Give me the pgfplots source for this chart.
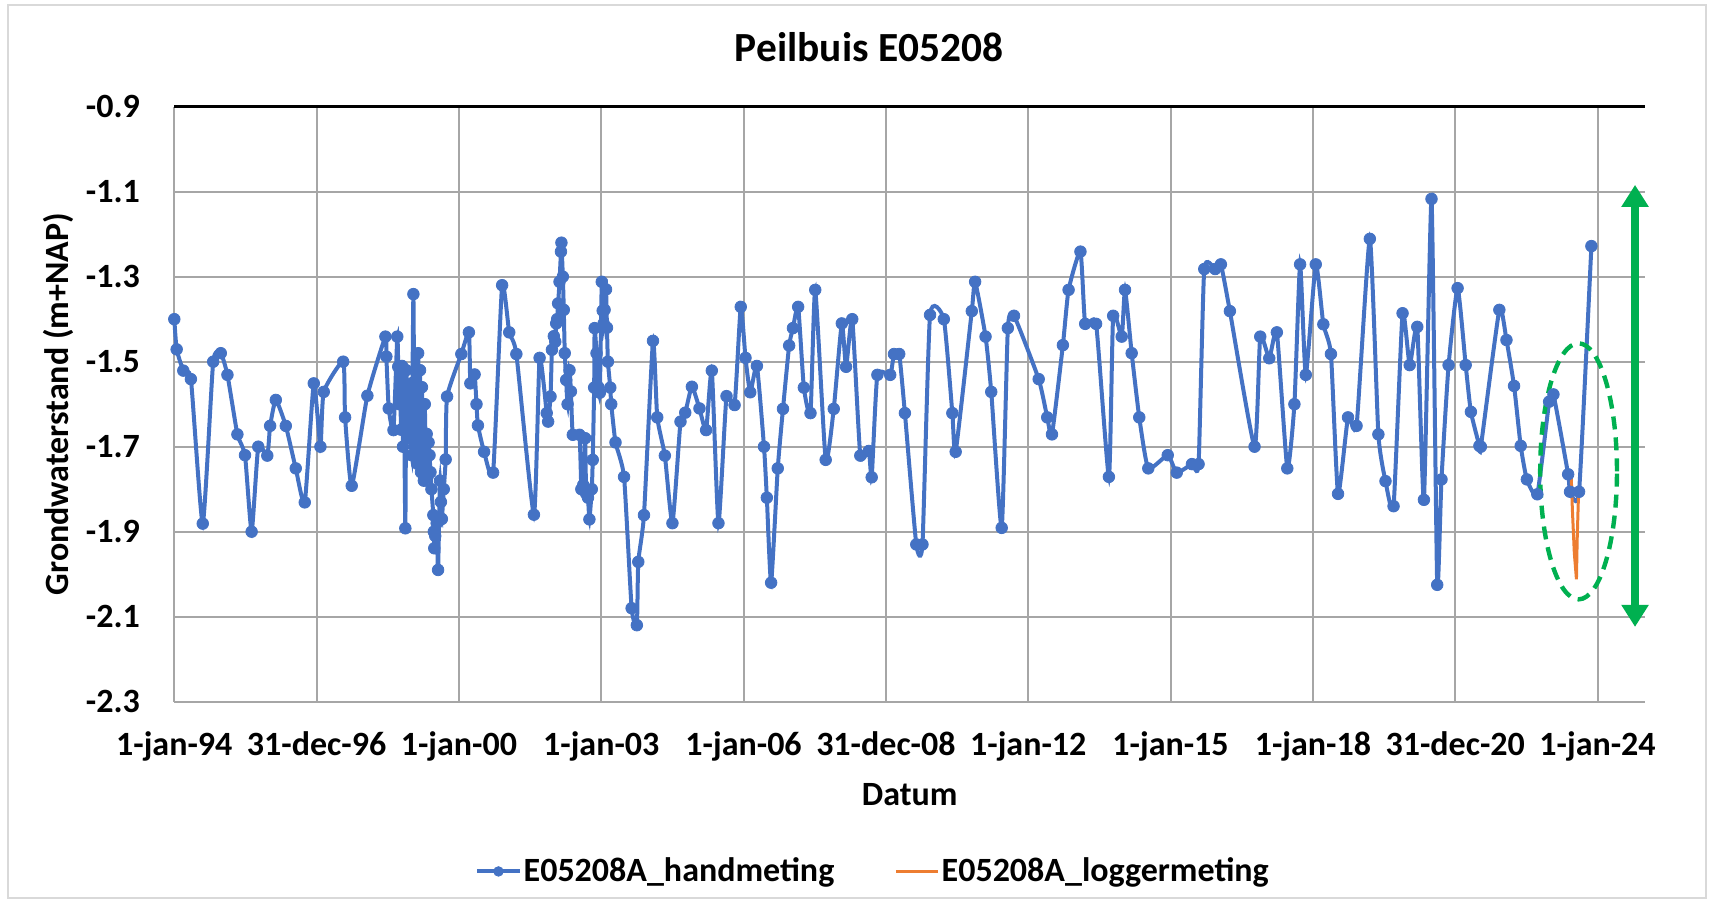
\documentclass[border=0pt]{standalone}
\usepackage{pgfplots}
\pgfplotsset{compat=1.18}
\usepackage{fontspec}
\setmainfont{Carlito}
\usetikzlibrary{arrows.meta}
\definecolor{xlblue}{HTML}{4472C4}
\definecolor{xlorange}{HTML}{ED7D31}
\definecolor{xlgreen}{HTML}{00B050}
\definecolor{gridgray}{HTML}{A6A6A6}
\definecolor{bordergray}{HTML}{D9D9D9}
\newcommand{\lblfont}{\fontsize{17pt}{20pt}\selectfont\bfseries}
\begin{document}
\begin{tikzpicture}
\useasboundingbox (-87.15pt,-100.65pt) rectangle (769.85pt,350.85pt);
\draw[bordergray, line width=0.6pt] (-83.15pt,-98.15pt) rectangle (765.85pt,348.35pt);
\begin{axis}[
  at={(0pt,0pt)}, anchor=south west,
  scale only axis, width=735.35pt, height=297.5pt,
  xmin=1994, xmax=2025, ymin=-2.3, ymax=-0.9,
  clip=false,
  axis line style={draw=none},
  major tick length=0pt,
  grid=major,
  major grid style={gridgray, line width=1pt},
  xtick={1994,1997,2000,2003,2006,2009,2012,2015,2018,2021,2024},
  xticklabels={1-jan-94,31-dec-96,1-jan-00,1-jan-03,1-jan-06,31-dec-08,1-jan-12,1-jan-15,1-jan-18,31-dec-20,1-jan-24},
  ytick={-2.3,-2.1,-1.9,-1.7,-1.5,-1.3,-1.1,-0.9},
  yticklabels={-2.3,-2.1,-1.9,-1.7,-1.5,-1.3,-1.1,-0.9},
  tick label style={font=\lblfont, text=black},
  xticklabel style={inner sep=0pt, anchor=north, yshift=-15pt},
  yticklabel style={inner sep=0pt, anchor=east, xshift=-17pt},
  title={Peilbuis E05208},
  title style={at={(axis description cs:0.4724,1.0802)}, anchor=center, font=\fontsize{20.7pt}{24pt}\selectfont\bfseries},
  xlabel={Datum},
  xlabel style={at={(axis description cs:0.5,-0.1563)}, anchor=center, font=\lblfont},
  ylabel={Grondwaterstand (m+NAP)},
  ylabel style={at={(axis description cs:-0.0790,0.5)}, anchor=center, font=\lblfont},
  legend columns=2,
  legend cell align=left,
  legend style={at={(axis description cs:0.4751,-0.2853)}, anchor=center, draw=none, fill=none, font=\lblfont,
    nodes={inner sep=1pt},
    /tikz/every even column/.append style={column sep=29pt}},
  legend image code/.code={\draw[mark repeat=2,mark phase=2,#1,mark size=2.4pt] plot coordinates {(0pt,0pt) (10.6pt,0pt) (21.2pt,0pt)};},
]
\addplot[xlblue, line width=2pt, smooth, tension=0.3, mark=*, mark size=2.9pt,
  mark options={solid, fill=xlblue, draw=xlblue, line width=0.4pt}] coordinates {
(1994.00,-1.400) (1994.05,-1.471) (1994.19,-1.521) (1994.35,-1.541) (1994.60,-1.881)
(1994.82,-1.500) (1994.98,-1.480) (1995.12,-1.531) (1995.33,-1.671) (1995.49,-1.720)
(1995.63,-1.900) (1995.77,-1.700) (1995.96,-1.721) (1996.02,-1.651) (1996.14,-1.590)
(1996.35,-1.651) (1996.56,-1.751) (1996.75,-1.831) (1996.94,-1.551) (1997.08,-1.700)
(1997.15,-1.571) (1997.56,-1.500) (1997.60,-1.631) (1997.74,-1.792) (1998.07,-1.580)
(1998.45,-1.441) (1998.47,-1.488) (1998.52,-1.610) (1998.62,-1.661) (1998.70,-1.441)
(1998.72,-1.512) (1998.74,-1.600) (1998.76,-1.550) (1998.78,-1.660) (1998.80,-1.510)
(1998.82,-1.700) (1998.84,-1.580) (1998.87,-1.892) (1998.89,-1.520) (1998.91,-1.620)
(1998.93,-1.560) (1998.95,-1.680) (1998.97,-1.600) (1999.00,-1.720) (1999.02,-1.550)
(1999.04,-1.341) (1999.06,-1.640) (1999.08,-1.700) (1999.10,-1.580) (1999.12,-1.740)
(1999.14,-1.480) (1999.16,-1.620) (1999.18,-1.520) (1999.20,-1.760) (1999.22,-1.560)
(1999.24,-1.700) (1999.26,-1.780) (1999.28,-1.600) (1999.30,-1.740) (1999.32,-1.670)
(1999.34,-1.770) (1999.36,-1.690) (1999.38,-1.720) (1999.40,-1.760) (1999.42,-1.800)
(1999.46,-1.861) (1999.47,-1.900) (1999.48,-1.939) (1999.50,-1.910) (1999.53,-1.880)
(1999.56,-1.990) (1999.60,-1.780) (1999.62,-1.830) (1999.64,-1.870) (1999.68,-1.800)
(1999.72,-1.730) (1999.75,-1.582) (2000.05,-1.482) (2000.21,-1.431) (2000.24,-1.551)
(2000.33,-1.530) (2000.37,-1.600) (2000.40,-1.650) (2000.53,-1.712) (2000.72,-1.761)
(2000.91,-1.320) (2001.06,-1.431) (2001.21,-1.482) (2001.58,-1.860) (2001.70,-1.491)
(2001.85,-1.621) (2001.88,-1.641) (2001.93,-1.582) (2001.96,-1.472) (2002.00,-1.440)
(2002.03,-1.453) (2002.05,-1.410) (2002.07,-1.400) (2002.09,-1.363) (2002.12,-1.312)
(2002.15,-1.241) (2002.16,-1.220) (2002.19,-1.300) (2002.21,-1.378) (2002.23,-1.480)
(2002.26,-1.543) (2002.29,-1.600) (2002.33,-1.520) (2002.36,-1.570) (2002.40,-1.672)
(2002.54,-1.672) (2002.58,-1.800) (2002.62,-1.790) (2002.66,-1.680) (2002.68,-1.810)
(2002.72,-1.820) (2002.75,-1.871) (2002.80,-1.800) (2002.82,-1.731) (2002.85,-1.561)
(2002.86,-1.421) (2002.90,-1.480) (2002.94,-1.560) (2002.97,-1.573) (2003.01,-1.312)
(2003.03,-1.380) (2003.05,-1.410) (2003.07,-1.378) (2003.10,-1.330) (2003.12,-1.420)
(2003.14,-1.500) (2003.19,-1.561) (2003.21,-1.600) (2003.30,-1.690) (2003.48,-1.771)
(2003.64,-2.080) (2003.75,-2.120) (2003.78,-1.971) (2003.90,-1.861) (2004.09,-1.451)
(2004.18,-1.631) (2004.34,-1.721) (2004.50,-1.880) (2004.67,-1.641) (2004.77,-1.620)
(2004.91,-1.559) (2005.07,-1.610) (2005.21,-1.661) (2005.33,-1.521) (2005.47,-1.880)
(2005.64,-1.581) (2005.81,-1.602) (2005.94,-1.371) (2006.04,-1.491) (2006.14,-1.572)
(2006.28,-1.510) (2006.43,-1.700) (2006.49,-1.820) (2006.58,-2.020) (2006.72,-1.751)
(2006.83,-1.611) (2006.96,-1.462) (2007.04,-1.421) (2007.15,-1.371) (2007.27,-1.561)
(2007.41,-1.621) (2007.51,-1.331) (2007.73,-1.731) (2007.90,-1.611) (2008.07,-1.410)
(2008.16,-1.512) (2008.29,-1.400) (2008.46,-1.721) (2008.64,-1.710) (2008.70,-1.772)
(2008.82,-1.531) (2009.09,-1.531) (2009.17,-1.482) (2009.28,-1.482) (2009.40,-1.621)
(2009.64,-1.930) (2009.77,-1.930) (2009.93,-1.390) (2010.22,-1.400) (2010.40,-1.621)
(2010.47,-1.712) (2010.81,-1.381) (2010.88,-1.312) (2011.10,-1.441) (2011.22,-1.571)
(2011.44,-1.891) (2011.57,-1.421) (2011.70,-1.392) (2012.22,-1.541) (2012.40,-1.631)
(2012.50,-1.671) (2012.73,-1.461) (2012.85,-1.331) (2013.10,-1.241) (2013.20,-1.411)
(2013.43,-1.411) (2013.70,-1.771) (2013.79,-1.392) (2013.97,-1.441) (2014.04,-1.331)
(2014.18,-1.480) (2014.34,-1.631) (2014.53,-1.751) (2014.94,-1.720) (2015.13,-1.761)
(2015.45,-1.741) (2015.59,-1.741) (2015.71,-1.282) (2015.94,-1.282) (2016.06,-1.271)
(2016.25,-1.381) (2016.77,-1.700) (2016.89,-1.441) (2017.08,-1.492) (2017.24,-1.431)
(2017.46,-1.751) (2017.61,-1.600) (2017.73,-1.271) (2017.85,-1.531) (2018.06,-1.271)
(2018.22,-1.412) (2018.38,-1.482) (2018.53,-1.811) (2018.74,-1.631) (2018.92,-1.651)
(2019.20,-1.211) (2019.38,-1.671) (2019.53,-1.781) (2019.70,-1.840) (2019.89,-1.386)
(2020.04,-1.508) (2020.20,-1.418) (2020.34,-1.825) (2020.50,-1.117) (2020.62,-2.025)
(2020.71,-1.777) (2020.86,-1.508) (2021.05,-1.327) (2021.22,-1.508) (2021.33,-1.618)
(2021.51,-1.698) (2021.54,-1.700) (2021.93,-1.378) (2022.08,-1.449) (2022.24,-1.557)
(2022.38,-1.698) (2022.51,-1.777) (2022.73,-1.812) (2022.98,-1.594) (2023.07,-1.577)
(2023.38,-1.765) (2023.42,-1.806) (2023.61,-1.806) (2023.87,-1.228)
};
\addlegendentry{E05208A\_handmeting}
\addplot[xlorange, line width=1.5pt] coordinates {
(2023.44,-1.755) (2023.47,-1.850) (2023.51,-1.950) (2023.555,-2.012) (2023.57,-1.920) (2023.60,-1.806)
};
\addlegendentry{E05208A\_loggermeting}
\draw[black, line width=1.3pt] (rel axis cs:0,1) -- (rel axis cs:1,1);
\draw[xlgreen, line width=2.2pt, dash pattern=on 6.5pt off 4pt] (axis cs:2023.6,-1.758) ellipse [x radius=19.2pt, y radius=64pt];
\draw[xlgreen, line width=4pt, {Triangle[width=13pt,length=11pt]}-{Triangle[width=13pt,length=11pt]}] (axis cs:2024.79,-1.084) -- (axis cs:2024.79,-2.124);
\end{axis}
\end{tikzpicture}
\end{document}
